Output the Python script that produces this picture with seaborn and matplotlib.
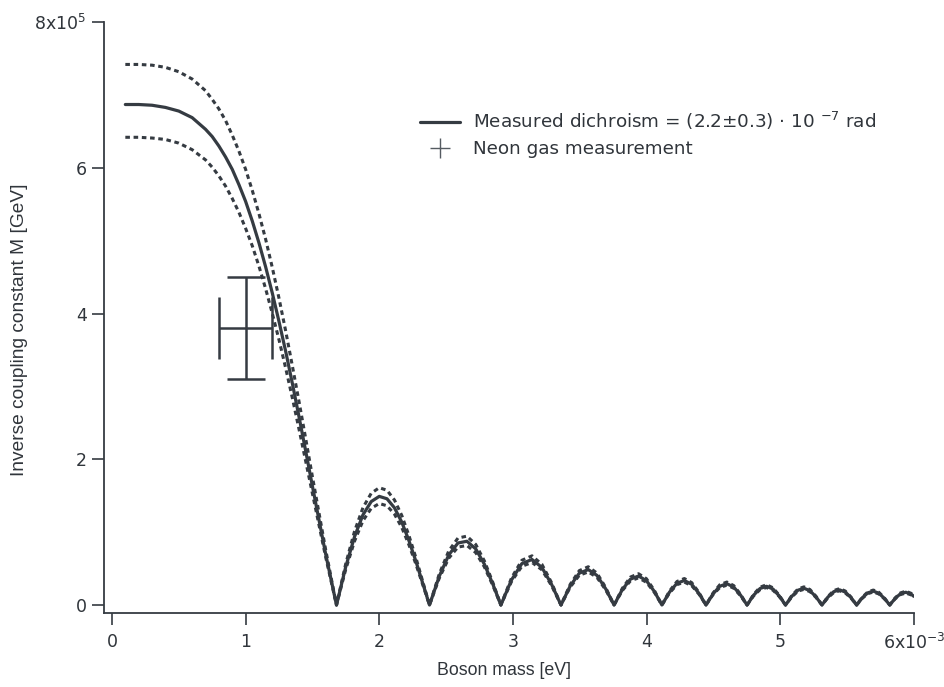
import matplotlib
matplotlib.use("Agg")
import matplotlib.pyplot as plt
import pandas as pd
import seaborn as sns
from matplotlib.lines import Line2D

# ---------------- data (mass in 1e-3 eV, M in 1e5 GeV) ----------------
mass = [0.1, 0.2, 0.3, 0.4, 0.5, 0.6, 0.7, 0.75, 0.8, 0.85, 0.9, 0.95, 1.0, 1.05, 1.1, 1.15, 1.2, 1.25,
        1.3, 1.35, 1.4, 1.45, 1.5, 1.6, 1.68,
        1.749, 1.815, 1.878, 1.940, 2.000, 2.058, 2.114, 2.169, 2.222, 2.275, 2.326, 2.376,
        2.449, 2.520, 2.589, 2.656, 2.722, 2.786, 2.849, 2.910,
        2.990, 3.067, 3.143, 3.217, 3.289, 3.360,
        3.429, 3.497, 3.564, 3.629, 3.693, 3.757,
        3.819, 3.880, 3.940, 3.999, 4.058, 4.115,
        4.172, 4.228, 4.283, 4.338, 4.392, 4.445,
        4.498, 4.549, 4.601, 4.652, 4.702, 4.752,
        4.801, 4.850, 4.898, 4.946, 4.993, 5.040,
        5.087, 5.133, 5.178, 5.223, 5.268, 5.313,
        5.357, 5.401, 5.444, 5.487, 5.530, 5.572,
        5.614, 5.656, 5.697, 5.738, 5.779, 5.820,
        5.860, 5.900, 5.940, 5.979, 6.000]

M_measured = [6.87, 6.87, 6.86, 6.83, 6.78, 6.69, 6.53, 6.43, 6.30, 6.15, 5.98, 5.77, 5.54, 5.27, 4.97, 4.64,
              4.28, 3.89, 3.48, 3.04, 2.58, 2.11, 1.63, 0.69, 0,
              0.522, 0.937, 1.237, 1.420, 1.491, 1.458, 1.334, 1.136, 0.884, 0.596, 0.295, 0,
              0.394, 0.687, 0.851, 0.875, 0.770, 0.562, 0.291, 0,
              0.345, 0.568, 0.625, 0.516, 0.285, 0,
              0.262, 0.437, 0.486, 0.406, 0.226, 0,
              0.212, 0.355, 0.398, 0.334, 0.187, 0,
              0.177, 0.299, 0.336, 0.284, 0.160, 0,
              0.153, 0.258, 0.292, 0.247, 0.140, 0,
              0.134, 0.227, 0.257, 0.219, 0.124, 0,
              0.119, 0.203, 0.230, 0.196, 0.111, 0,
              0.108, 0.183, 0.208, 0.178, 0.101, 0,
              0.098, 0.167, 0.190, 0.162, 0.092, 0,
              0.090, 0.154, 0.175, 0.150, 0.119]

M_upper = [7.42, 7.42, 7.41, 7.38, 7.32, 7.22, 7.06, 6.94, 6.81, 6.65, 6.45, 6.23, 5.98, 5.69, 5.37, 5.02,
           4.63, 4.21, 3.76, 3.28, 2.79, 2.28, 1.76, 0.75, 0,
           0.564, 1.012, 1.336, 1.534, 1.610, 1.575, 1.441, 1.227, 0.954, 0.644, 0.319, 0,
           0.425, 0.742, 0.919, 0.945, 0.831, 0.607, 0.314, 0,
           0.373, 0.614, 0.675, 0.558, 0.308, 0,
           0.283, 0.472, 0.525, 0.438, 0.244, 0,
           0.229, 0.384, 0.429, 0.361, 0.202, 0,
           0.192, 0.323, 0.363, 0.307, 0.173, 0,
           0.165, 0.279, 0.315, 0.267, 0.151, 0,
           0.145, 0.245, 0.278, 0.236, 0.134, 0,
           0.129, 0.219, 0.249, 0.212, 0.120, 0,
           0.116, 0.198, 0.225, 0.192, 0.109, 0,
           0.106, 0.180, 0.205, 0.175, 0.100, 0,
           0.097, 0.166, 0.189, 0.161, 0.129]

M_lower = [6.42, 6.42, 6.41, 6.39, 6.34, 6.25, 6.11, 6.01, 5.89, 5.75, 5.58, 5.39, 5.17, 4.93, 4.65, 4.34,
           4.00, 3.64, 3.25, 2.84, 2.41, 1.97, 1.53, 0.65, 0,
           0.488, 0.876, 1.156, 1.327, 1.393, 1.362, 1.247, 1.062, 0.826, 0.557, 0.276, 0,
           0.368, 0.642, 0.795, 0.817, 0.719, 0.525, 0.272, 0,
           0.323, 0.531, 0.584, 0.483, 0.267, 0,
           0.245, 0.408, 0.454, 0.379, 0.211, 0,
           0.198, 0.332, 0.372, 0.312, 0.175, 0,
           0.166, 0.279, 0.314, 0.265, 0.150, 0,
           0.143, 0.241, 0.272, 0.231, 0.130, 0,
           0.125, 0.212, 0.240, 0.204, 0.116, 0,
           0.111, 0.190, 0.215, 0.183, 0.104, 0,
           0.100, 0.171, 0.195, 0.166, 0.094, 0,
           0.091, 0.156, 0.178, 0.152, 0.086, 0,
           0.084, 0.143, 0.163, 0.140, 0.112]

neon_mass = [1.0]
neon_M = [3.8]
neon_mass_err = [0.2]
neon_M_err = [0.7]

x_ticks = [0, 1, 2, 3, 4, 5, 6]
x_tick_labels = ["0", "1", "2", "3", "4", "5", r"6x10$^{-3}$"]
y_ticks = [0, 2, 4, 6, 8]
y_tick_labels = ["0", "2", "4", "6", r"8x10$^{5}$"]

legend_labels = [r"Measured dichroism = (2.2±0.3) · 10 $^{-7}$ rad",
                 "Neon gas measurement"]

# ---------------- figure ----------------
sns.set_style("ticks")
plt.rcParams['font.family'] = ['DejaVu Sans']
plt.rcParams['mathtext.fontset'] = 'dejavusans'

dark = "#353b42"
txt = "#30353b"

fig = plt.figure(figsize=(9.45, 6.87), dpi=100)
ax = fig.add_axes([0.110, 0.1077, 0.857, 0.860])

df = pd.DataFrame({"mass": mass, "measured": M_measured,
                   "upper": M_upper, "lower": M_lower})

dot = (0, (1.5, 1.2))
sns.lineplot(data=df, x="mass", y="upper", ax=ax, sort=False, estimator=None,
             color=dark, lw=2.2, linestyle=dot, dash_capstyle="butt")
sns.lineplot(data=df, x="mass", y="lower", ax=ax, sort=False, estimator=None,
             color=dark, lw=2.2, linestyle=dot, dash_capstyle="butt")
sns.lineplot(data=df, x="mass", y="measured", ax=ax, sort=False, estimator=None,
             color=dark, lw=2.3)

ax.errorbar(neon_mass, neon_M, xerr=neon_mass_err, fmt="none", ecolor=dark,
            elinewidth=1.8, capsize=22, capthick=1.8)
ax.errorbar(neon_mass, neon_M, yerr=neon_M_err, fmt="none", ecolor=dark,
            elinewidth=1.8, capsize=13.7, capthick=1.8)

ax.set_xlim(-0.06, 6.0)
ax.set_ylim(-0.11, 8.0)
ax.set_xticks(x_ticks)
ax.set_xticklabels(x_tick_labels)
ax.set_yticks(y_ticks)
ax.set_yticklabels(y_tick_labels)

sns.despine(ax=ax)
for s in ["left", "bottom"]:
    ax.spines[s].set_color(dark)
    ax.spines[s].set_linewidth(1.3)

ax.tick_params(axis="both", direction="out", length=8.5, width=1.2,
               color=dark, labelcolor=txt, labelsize=12.5)
ax.tick_params(axis="x", pad=6)
ax.tick_params(axis="y", pad=4)

ax.set_xlabel("Boson mass [eV]", family=["Liberation Sans"], fontsize=12.8, color=txt)
ax.set_ylabel("Inverse coupling constant M [GeV]", family=["Liberation Sans"],
              fontsize=13.8, color=txt)
ax.xaxis.set_label_coords(0.494, -0.083)
ax.yaxis.set_label_coords(-0.094, 0.479)

handles = [Line2D([], [], color=dark, lw=2.3),
           Line2D([], [], color="#555b61", lw=0, marker="+", markersize=14, mew=1.0)]
leg = ax.legend(handles, legend_labels, loc="upper left",
                bbox_to_anchor=(420 / 945, 1 - 110 / 687), bbox_transform=fig.transFigure,
                frameon=False, fontsize=13.2, handlelength=2.2, handletextpad=0.7,
                labelspacing=0.45, borderpad=0, borderaxespad=0)
for t in leg.get_texts():
    t.set_color(txt)

fig.savefig("out.png", dpi=100, facecolor="white")
